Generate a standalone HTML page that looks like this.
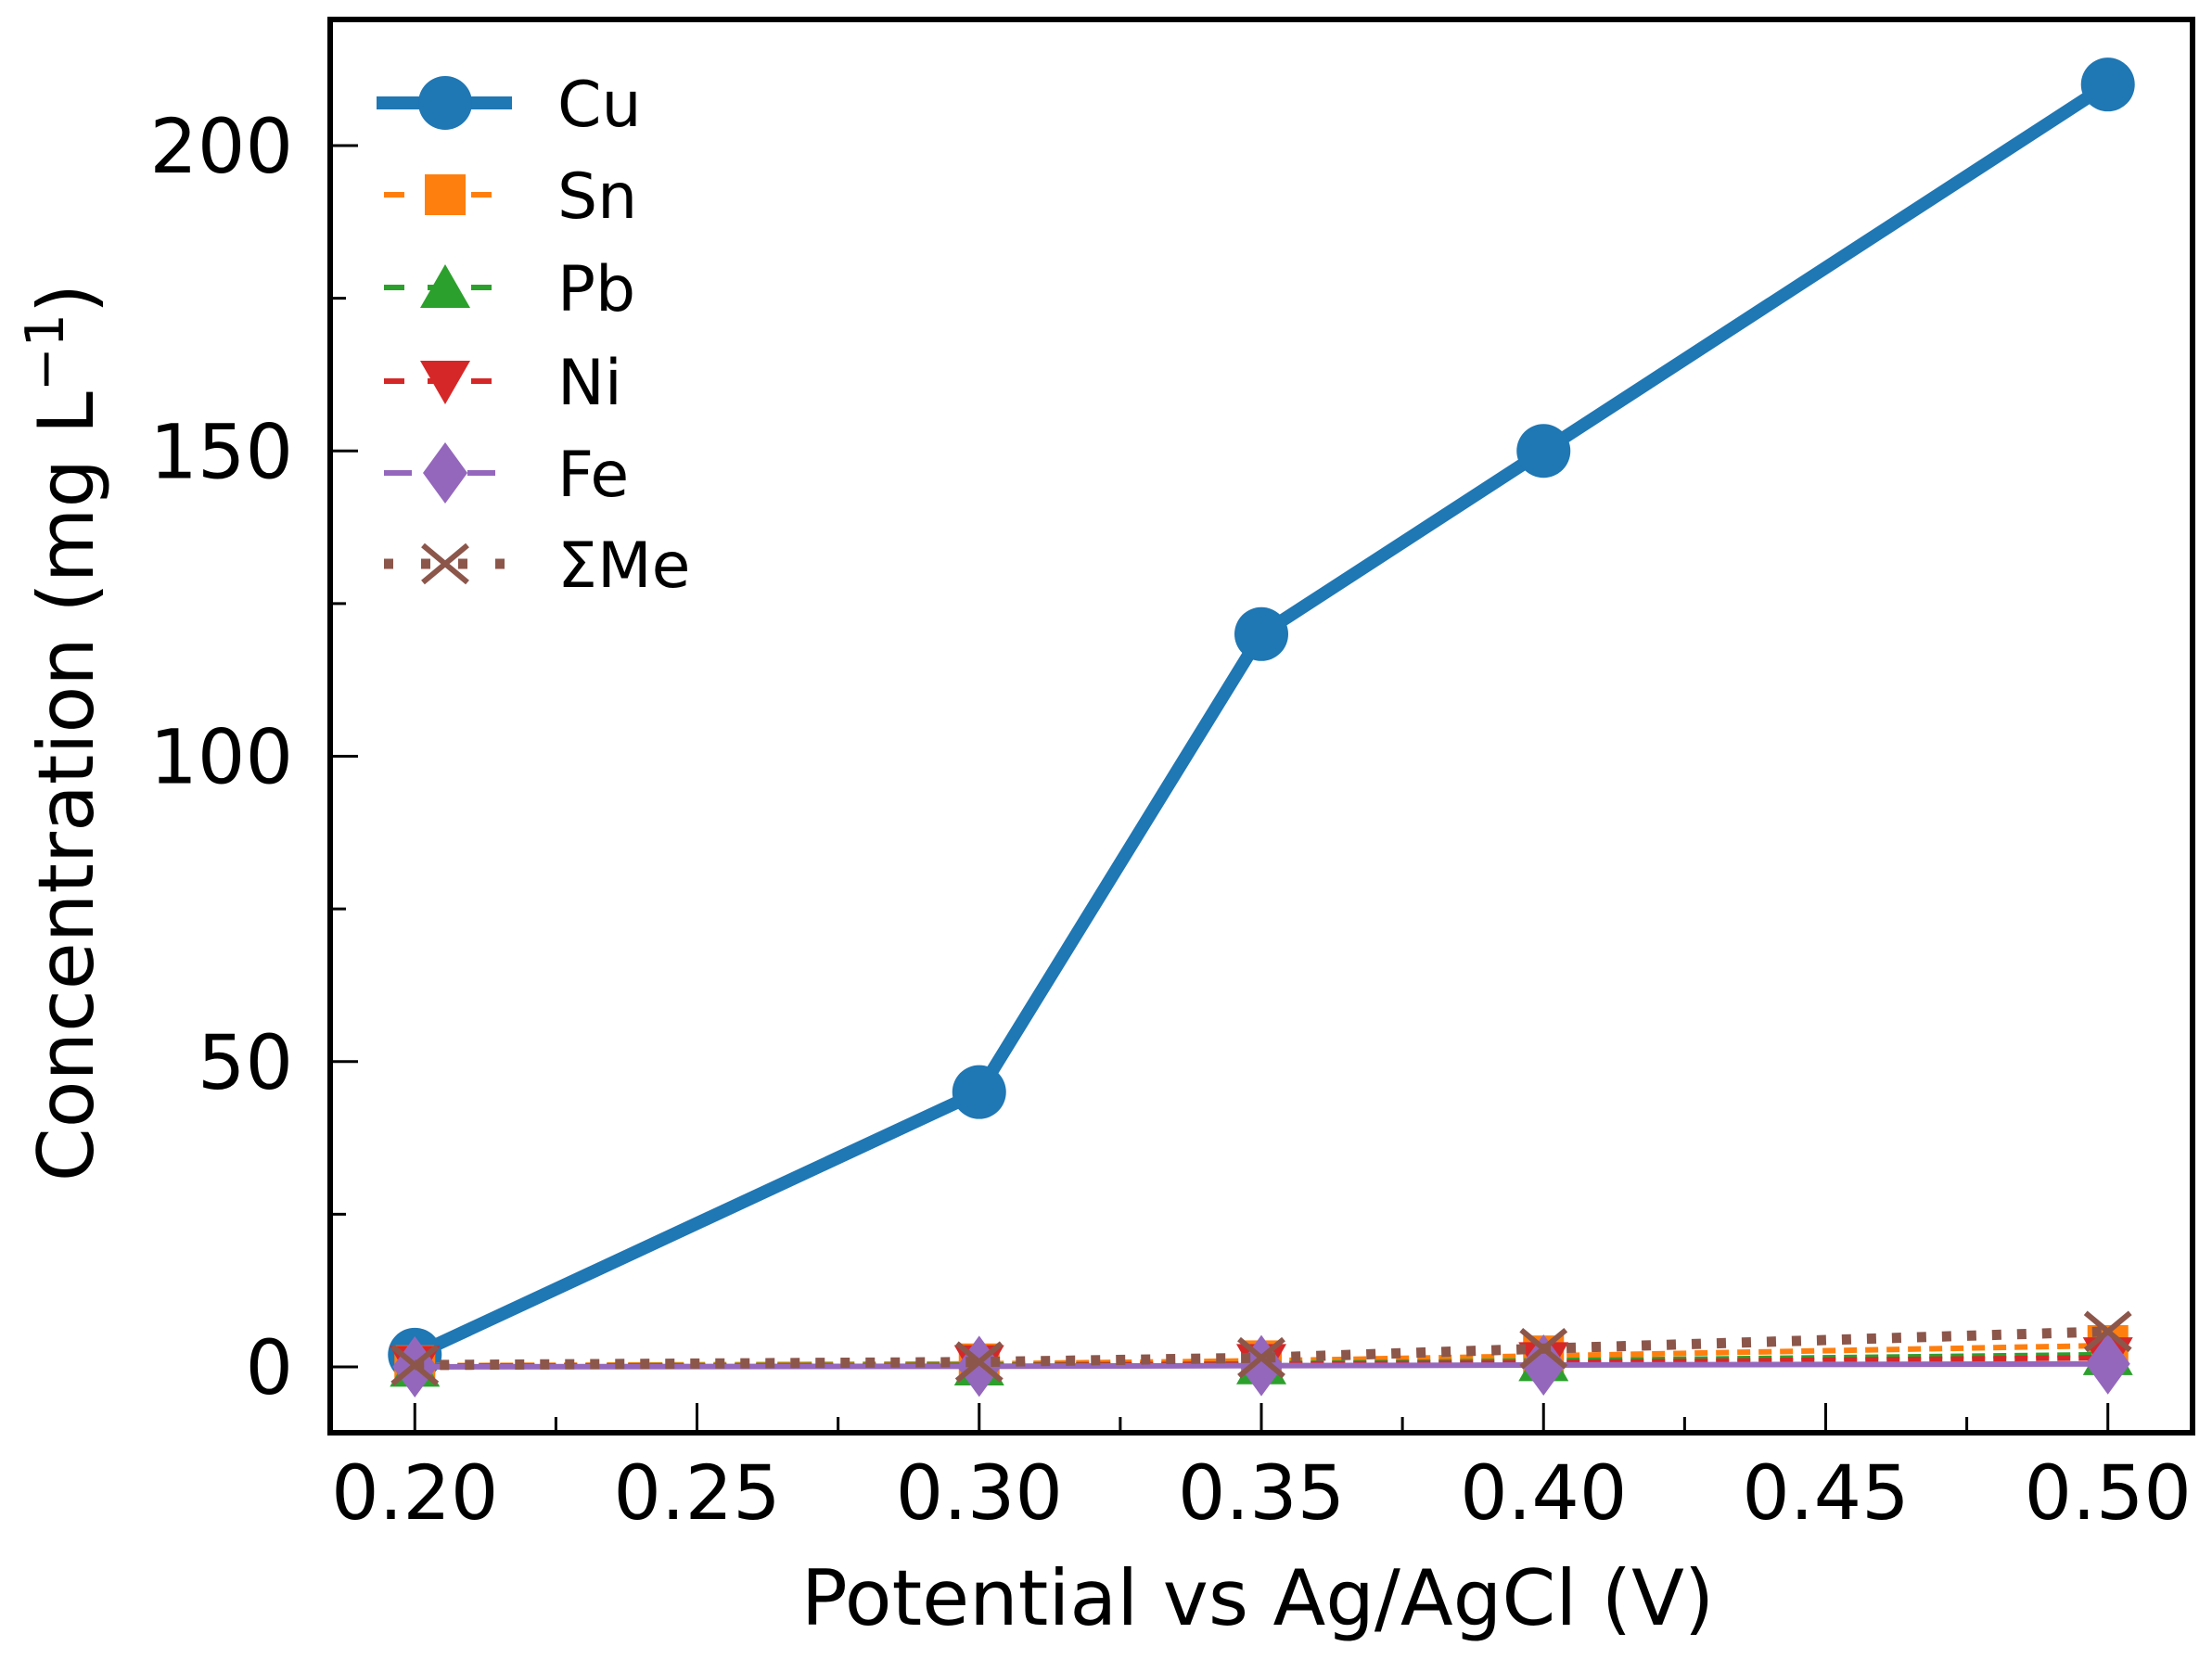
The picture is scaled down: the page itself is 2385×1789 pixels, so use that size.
<!DOCTYPE html>
<html><head><meta charset="utf-8"><style>
html,body{margin:0;padding:0;background:#fff;}
svg{display:block;font-family:"DejaVu Sans","Liberation Sans",sans-serif;}
</style></head><body>
<svg id="chart" width="2385" height="1789" viewBox="0 0 2385 1789" xmlns="http://www.w3.org/2000/svg">
<rect x="0" y="0" width="2385" height="1789" fill="#fff"/>
<g id="plot"></g>
<g id="axes"></g>
<g id="legend"></g>
</svg>
<script>
const xVals = [0.20, 0.30, 0.35, 0.40, 0.50];
const cuVals = [2, 45, 120, 150, 210];
const snVals = [0.2, 0.5, 1.0, 1.8, 3.5];
const pbVals = [0.1, 0.3, 0.5, 1.0, 2.0];
const niVals = [0.1, 0.2, 0.4, 0.7, 1.5];
const feVals = [0.0, 0.1, 0.2, 0.3, 0.5];
const sumVals = [0.3, 0.8, 1.5, 3.0, 5.8];
const xTicks = [0.20, 0.25, 0.30, 0.35, 0.40, 0.45, 0.50];
const xTickLabels = ["0.20","0.25","0.30","0.35","0.40","0.45","0.50"];
const yTicks = [0, 50, 100, 150, 200];
const yTickLabels = ["0","50","100","150","200"];
const seriesNames = ["Cu","Sn","Pb","Ni","Fe","ΣMe"];

const NS="http://www.w3.org/2000/svg";
const L=356,R=2364,T=21,B=1545;
const X0=0.185,X1=0.515;
const Y0=(1474-1545)/((1474-157)/200), Y1=Y0+(B-T)/((1474-157)/200);
function sx(v){return L+(v-X0)/(X1-X0)*(R-L);}
function sy(v){return B-(v-Y0)/(Y1-Y0)*(B-T);}
function mk(tag,attrs,parent){const e=document.createElementNS(NS,tag);for(const k in attrs)e.setAttribute(k,attrs[k]);parent.appendChild(e);return e;}
const plot=document.getElementById('plot'),axes=document.getElementById('axes'),leg=document.getElementById('legend');

function marker(type,cx,cy,color,parent,name){
  let e;
  if(type==='o') e=mk('circle',{cx:cx,cy:cy,r:29,fill:color},parent);
  else if(type==='s') e=mk('rect',{x:cx-22,y:cy-22,width:44,height:44,fill:color},parent);
  else if(type==='^') e=mk('polygon',{points:`${cx},${cy-25} ${cx+27},${cy+22} ${cx-27},${cy+22}`,fill:color},parent);
  else if(type==='v') e=mk('polygon',{points:`${cx},${cy+25} ${cx+27},${cy-22} ${cx-27},${cy-22}`,fill:color},parent);
  else if(type==='d') e=mk('polygon',{points:`${cx},${cy-33} ${cx+24},${cy} ${cx},${cy+33} ${cx-24},${cy}`,fill:color},parent);
  else if(type==='x'){e=mk('path',{d:`M${cx-24},${cy-20}L${cx+24},${cy+20}M${cx-24},${cy+20}L${cx+24},${cy-20}`,stroke:color,'stroke-width':6,fill:'none'},parent);}
  
  
  return e;
}
const series=[
 {vals:cuVals,color:'#1f77b4',m:'o',w:14,dash:''},
 {vals:snVals,color:'#ff7f0e',m:'s',w:6,dash:'14,9'},
 {vals:pbVals,color:'#2ca02c',m:'^',w:6,dash:'14,9'},
 {vals:niVals,color:'#d62728',m:'v',w:6,dash:'14,9'},
 {vals:feVals,color:'#9467bd',m:'d',w:6,dash:''},
 {vals:sumVals,color:'#8c564b',m:'x',w:11,dash:'10,17'}
];
series.forEach((s,i)=>{
  const g=mk('g',{},plot);
  
  
  const pts=xVals.map((x,j)=>sx(x)+','+sy(s.vals[j])).join(' ');
  const pl=mk('polyline',{points:pts,fill:'none',stroke:s.color,'stroke-width':s.w,'stroke-dasharray':s.dash,'stroke-linejoin':'round'},g);
  
  
  xVals.forEach((x,j)=>marker(s.m,sx(x),sy(s.vals[j]),s.color,g,'point-'+seriesNames[i].replace('Σ','sum-').toLowerCase()));
});
const fr=mk('rect',{x:L,y:T,width:R-L,height:B-T,fill:'none',stroke:'#000','stroke-width':6},axes);


xTicks.forEach((t,i)=>{
  const x=sx(t);
  mk('line',{x1:x,y1:B,x2:x,y2:B-32,stroke:'#000','stroke-width':3},axes);
  const tx=mk('text',{x:x,y:1638,'font-size':81,'text-anchor':'middle',fill:'#000'},axes);
  tx.textContent=xTickLabels[i];
  
  
  if(i<xTicks.length-1){const xm=sx(t+0.025);mk('line',{x1:xm,y1:B,x2:xm,y2:B-17,stroke:'#000','stroke-width':3},axes);}
});
yTicks.forEach((t,i)=>{
  const y=sy(t);
  mk('line',{x1:L,y1:y,x2:L+30,y2:y,stroke:'#000','stroke-width':3},axes);
  const tx=mk('text',{x:316,y:y+29,'font-size':81,'text-anchor':'end',fill:'#000'},axes);
  tx.textContent=yTickLabels[i];
  
  
  const ym=sy(t+25);
  if(ym>T) mk('line',{x1:L,y1:ym,x2:L+17,y2:ym,stroke:'#000','stroke-width':3},axes);
});
const xl=mk('text',{x:1356,y:1752,'font-size':83,'text-anchor':'middle',fill:'#000'},axes);
xl.textContent='Potential vs Ag/AgCl (V)';


const yl=mk('text',{x:0,y:0,'font-size':83,'text-anchor':'middle',fill:'#000',transform:'translate(100,790) rotate(-90)'},axes);
yl.innerHTML='Concentration (mg L<tspan font-size="57" dy="-32">−1</tspan><tspan dy="32">)</tspan>';


const rows=[111,210,310,411,510,608];
series.forEach((s,i)=>{
  const g=mk('g',{},leg);
  
  
  const y=rows[i];
  if(i===0) mk('line',{x1:406,y1:y,x2:552,y2:y,stroke:s.color,'stroke-width':14},g);
  else if(i===5) mk('line',{x1:414,y1:y,x2:544,y2:y,stroke:s.color,'stroke-width':11,'stroke-dasharray':'10,30'},g);
  else mk('line',{x1:414,y1:y,x2:534,y2:y,stroke:s.color,'stroke-width':6,'stroke-dasharray':s.dash?'22,25':'30,60'},g);
  if(i===4) mk('line',{x1:504,y1:y,x2:534,y2:y,stroke:s.color,'stroke-width':6},g);
  marker(s.m,480,y,s.color,g,'legend-marker');
  const tx=mk('text',{x:601,y:y+25,'font-size':68,fill:'#000'},g);
  tx.textContent=seriesNames[i];
  
  
});
</script>
</body></html>
